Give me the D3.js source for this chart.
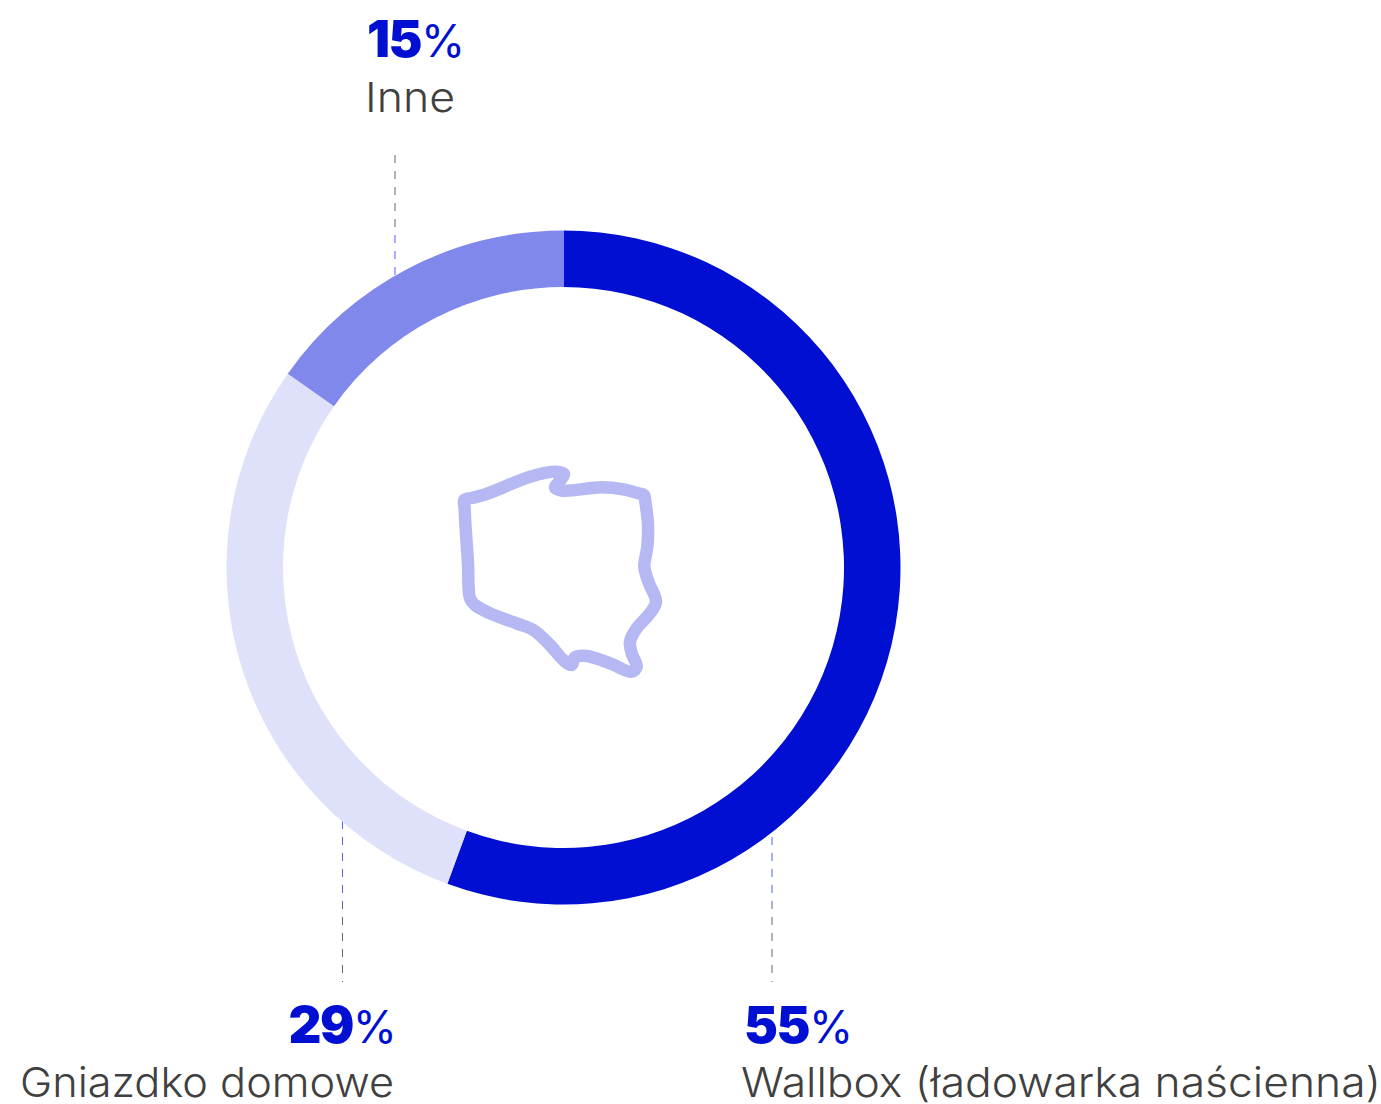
<!DOCTYPE html>
<html><head><meta charset="utf-8">
<style>html,body{margin:0;padding:0;background:#fff}svg{display:block}</style>
<script src="https://cdn.jsdelivr.net/npm/d3@7/dist/d3.min.js"></script>
</head><body><svg id="c" width="1381" height="1104"></svg>
<script>
const categories=["Wallbox (ładowarka naścienna)","Gniazdko domowe","Inne"];
const percentLabels=[55,29,15];
const arcShares=[55.6,29.15,15.25];
const colors=["#000FD2","#DFE0FA","#8088EB"];
const outlineX=[103,125,160,205,300,380,402,392,375,395,515,580,625,642,646,654,652,643,655,678,660,620,600,605,620,605,540,470,435,425,400,360,310,260,180,135,120,114,106,104];
const outlineY=[150,144,135,118,80,65,72,90,112,122,112,118,130,135,155,225,290,350,395,455,490,535,575,610,650,665,640,618,622,645,630,585,540,520,490,465,445,340,220,175];

const W=1381,H=1104,cx=563.5,cy=567.5,R=337,r=280.5;
const svg=d3.select("#c");
const defs=svg.append("defs");
const grad=defs.append("linearGradient").attr("id","lead").attr("gradientUnits","userSpaceOnUse")
 .attr("x1",0).attr("x2",0).attr("y1",0).attr("y2",H);
const a=(cy-R)/H,b=(cy+R)/H;
[[0,"#666"],[a,"#666"],[a,"#5560F5"],[b,"#5560F5"],[b,"#666"],[1,"#666"]].forEach(s=>
 grad.append("stop").attr("offset",s[0]).attr("stop-color",s[1]));

const leaders=[{x:772,y1:821,y2:982},{x:342.5,y1:821,y2:982},{x:395,y1:155,y2:275}];
svg.selectAll("line.l").data(leaders).join("line").attr("class","l")
 .attr("x1",d=>d.x).attr("x2",d=>d.x+0.001).attr("y1",d=>d.y1).attr("y2",d=>d.y2)
 .attr("stroke","url(#lead)").attr("stroke-width",1).attr("stroke-dasharray","8 8");

const g=svg.append("g").attr("transform",`translate(${cx},${cy})`);
const pie=d3.pie().sort(null)(arcShares);
const arc=d3.arc().innerRadius(r).outerRadius(R);
g.selectAll("path").data(pie).join("path").attr("d",arc).attr("fill",(d,i)=>colors[i]);

const sx=d3.scaleLinear().domain([0,750]).range([430,680]);
const sy=d3.scaleLinear().domain([0,720]).range([450,690]);
const line=d3.line().x(d=>sx(d[0])).y(d=>sy(d[1])).curve(d3.curveCatmullRomClosed.alpha(0.5));
svg.append("path").attr("d",line(d3.zip(outlineX,outlineY))).attr("fill","none")
 .attr("stroke","#B6B8F3").attr("stroke-width",12.5).attr("stroke-linejoin","round");

const font="Inter, 'Noto Sans', sans-serif";
const pctPos=[{x:744,a:"start"},{x:397,a:"end"},{x:367,a:"start"}];
const pctY=[1043,1043,57];
const labX=[741,394,365], labY=[1097,1097,112], labA=["start","end","start"], labLen=[640,374,90];
const pct=svg.selectAll("text.p").data(percentLabels).join("text").attr("class","p")
 .attr("x",(d,i)=>pctPos[i].x).attr("y",(d,i)=>pctY[i]).attr("text-anchor",(d,i)=>pctPos[i].a)
 .attr("font-family",font).attr("fill","#000FD2").attr("font-size",51);
pct.append("tspan").attr("font-weight",900).attr("letter-spacing",-1.5).text(d=>d);
pct.append("tspan").attr("font-weight",400).attr("font-size",45).text("%");
svg.selectAll("text.n").data(categories).join("text").attr("class","n")
 .attr("x",(d,i)=>labX[i]).attr("y",(d,i)=>labY[i]).attr("text-anchor",(d,i)=>labA[i])
 .attr("textLength",(d,i)=>labLen[i]).attr("lengthAdjust","spacingAndGlyphs")
 .attr("font-family",font).attr("font-weight",300).attr("font-size",41).attr("fill","#404040").text(d=>d);
</script></body></html>
